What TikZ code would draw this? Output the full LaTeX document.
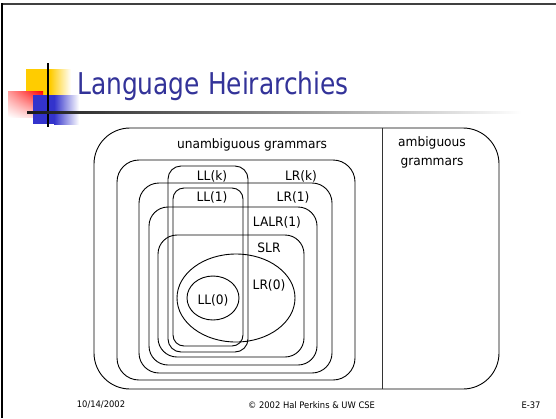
\documentclass[tikz,border=0pt]{standalone}
\usepackage{fontspec}
\setmainfont{DejaVu Sans}
\newfontfamily\ttlfont[FakeStretch=0.83]{DejaVu Sans}
\newfontfamily\lblfont[FakeStretch=0.94]{DejaVu Sans}
\newfontfamily\ftrfont[FakeStretch=0.93]{DejaVu Sans}
\usetikzlibrary{shapes.geometric,shadings}
\definecolor{titleblue}{RGB}{51,51,153}
\definecolor{deckyellow}{RGB}{255,204,0}
\definecolor{deckblue}{RGB}{51,51,204}
\definecolor{deckred}{RGB}{255,0,0}
\begin{document}
\begin{tikzpicture}[x=1pt,y=-1pt,
  region/.style={draw=black, line width=0.9pt, inner sep=0pt, outer sep=0pt, rectangle},
  oval/.style={draw=black, line width=0.9pt, inner sep=0pt, outer sep=0pt, ellipse},
  lbl/.style={font=\lblfont\fontsize{13}{18.5}\selectfont, inner sep=0pt, align=center},
  ftr/.style={font=\ftrfont\fontsize{9}{10}\selectfont, inner sep=0pt}]
\useasboundingbox[fill=white] (0,0) rectangle (556,418);
% slide frame
\fill[black!75] (1,2.7) rectangle (556,5);
\fill[black] (1,2.7) rectangle (3.3,418);
% title decoration
\fill[deckyellow] (26,69) rectangle (50,96);
\shade[left color=deckyellow, right color=white] (50,69) rectangle (71,96);
\shade[upper left=red!40, upper right=deckred, lower left=white, lower right=red!20] (8,91) rectangle (43,117);
\fill[deckblue] (33,95) rectangle (54,124);
\shade[left color=deckblue, right color=white] (54,95) rectangle (79,124);
\draw[line width=1.3pt] (48,63) -- (48,127);
\shade[left color=black!90, right color=white] (27,111) rectangle (522,113.3);
\node[anchor=base west, inner sep=0pt, text=titleblue, font=\ttlfont\fontsize{30}{30}\selectfont] (title) at (77,94) {Language Heirarchies};
% regions
\node[region, rounded corners=36pt, minimum width=405pt, minimum height=261pt] (outer) at (296.5,258.5) {};
\node[region, rounded corners=22pt, minimum width=238pt, minimum height=220pt] (lrk) at (236,270) {};
\node[region, rounded corners=20pt, minimum width=193pt, minimum height=190pt] (lr1) at (235.5,278) {};
\node[region, rounded corners=19pt, minimum width=168pt, minimum height=158pt] (lalr) at (233,286) {};
\node[region, rounded corners=19pt, minimum width=146pt, minimum height=122pt] (slr) at (231,296) {};
\node[region, rounded corners=13pt, minimum width=80pt, minimum height=186pt] (llk) at (208,259) {};
\node[region, rounded corners=11pt, minimum width=70pt, minimum height=158pt] (ll1) at (208,267) {};
\node[oval, minimum width=118pt, minimum height=88pt] (lr0) at (236,298) {};
\node[oval, minimum width=52pt, minimum height=44pt] (ll0) at (213,298) {};
\coordinate (divtop) at (382,128);
\coordinate (divbot) at (382,389);
\draw[line width=0.9pt, black!80] (divtop) -- (divbot);
% labels
\node[lbl] (tunamb) at (252,145) {unambiguous grammars};
\node[lbl] (tamb) at (432,152.5) {ambiguous\\grammars};
\node[lbl] (tllk) at (212,176) {LL(k)};
\node[lbl] (tlrk) at (301,176) {LR(k)};
\node[lbl] (tll1) at (212,197) {LL(1)};
\node[lbl] (tlr1) at (293,197) {LR(1)};
\node[lbl] (tlalr) at (277,222) {LALR(1)};
\node[lbl] (tslr) at (269,248) {SLR};
\node[lbl] (tlr0) at (269,285) {LR(0)};
\node[lbl] (tll0) at (213,300) {LL(0)};
% footer
\node[ftr] (fdate) at (101,405) {10/14/2002};
\node[ftr] (fcopy) at (311.5,405) {© 2002 Hal Perkins \& UW CSE};
\node[ftr] (fnum) at (531,405) {E-37};
\end{tikzpicture}
\end{document}
